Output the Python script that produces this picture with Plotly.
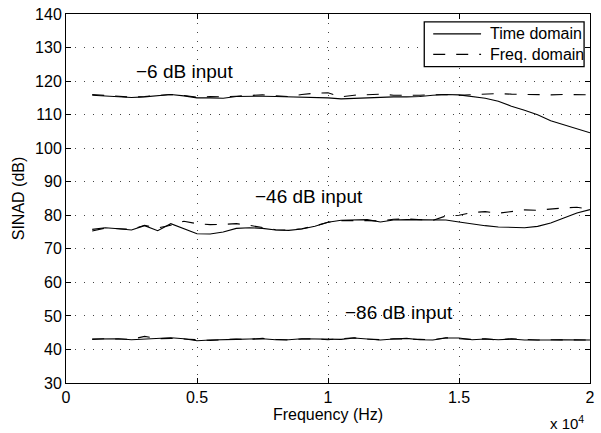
import plotly.graph_objects as go

freq_hz = [1000 + 500 * i for i in range(39)]

time_m6 = [115.8, 115.5, 115.2, 115.1, 115.3, 115.7, 116.0, 115.6, 115.0, 115.0,
           114.9, 115.4, 115.5, 115.5, 115.4, 115.3, 115.3, 115.2, 115.0,
           114.7, 114.9, 115.1, 115.2, 115.3, 115.3, 115.4, 115.8, 116.0, 115.9,
           115.5, 114.9, 114.0, 112.5, 111.3, 110.0, 108.2, 107.0, 105.8, 104.6]
freq_m6 = [116.0, 115.7, 115.3, 115.2, 115.4, 115.8, 116.0, 115.7, 115.2, 115.4,
           115.3, 115.5, 115.8, 115.9, 115.6, 115.4, 116.0, 116.4, 116.5,
           115.3, 115.8, 116.0, 116.1, 115.8, 115.7, 115.8, 115.9, 116.0, 115.8,
           116.0, 116.2, 116.3, 116.1, 116.0, 115.9, 115.9, 116.0, 116.0, 115.9]

time_m46 = [75.8, 76.3, 76.0, 75.6, 76.9, 75.4, 77.5, 76.1, 74.5, 74.4,
            75.0, 76.1, 76.3, 76.1, 75.6, 75.5, 75.9, 76.7, 77.9,
            78.5, 78.6, 78.7, 78.0, 78.6, 78.7, 78.6, 78.6, 78.6, 78.0,
            77.4, 76.9, 76.5, 76.3, 76.3, 76.7, 77.7, 79.2, 80.7, 81.7]
freq_m46 = [75.3, 76.2, 76.0, 75.8, 77.0, 76.2, 77.0, 78.2, 77.5, 77.2,
            77.3, 77.5, 77.0, 76.3, 75.7, 75.6, 76.0, 76.8, 77.9,
            78.4, 78.5, 78.4, 78.3, 78.8, 78.9, 78.6, 78.5, 79.8, 80.0,
            80.8, 81.1, 80.6, 81.2, 81.6, 81.5, 81.9, 82.2, 82.4, 81.8]

time_m86 = [43.1, 43.1, 43.2, 42.9, 43.1, 43.2, 43.5, 43.2, 42.6, 42.8,
            42.8, 43.0, 43.1, 43.2, 42.9, 42.9, 43.2, 43.1, 43.0,
            43.0, 43.4, 43.2, 42.8, 43.1, 43.3, 42.9, 42.8, 43.4, 43.4,
            42.9, 43.1, 42.9, 43.1, 42.8, 42.7, 42.8, 42.9, 42.8, 42.8]
freq_m86 = [43.0, 43.2, 43.1, 43.0, 43.9, 43.2, 43.3, 43.1, 42.8, 42.7,
            42.9, 43.1, 43.0, 43.3, 43.0, 42.8, 43.1, 43.2, 42.9,
            43.1, 43.5, 43.1, 42.9, 43.2, 43.2, 43.0, 42.9, 43.5, 43.2,
            43.0, 43.2, 42.8, 43.2, 42.9, 42.8, 42.9, 42.8, 42.9, 42.8]

x_tickvals = [0, 5000, 10000, 15000, 20000]
x_ticktext = ["0", "0.5", "1", "1.5", "2"]
y_tickvals = list(range(30, 141, 10))

labels = [("\u22126 dB input", 2580, 122.9),
          ("\u221246 dB input", 7150, 85.6),
          ("\u221286 dB input", 10580, 50.9)]
series_names = ["Time domain", "Freq. domain"]

FONT = "Liberation Sans, Arial, sans-serif"
DASH = "12px,11px"
fig = go.Figure()

for ys in [time_m6, time_m46, time_m86]:
    fig.add_trace(go.Scatter(x=freq_hz, y=ys, mode="lines", name=series_names[0],
                             showlegend=False, line=dict(color="black", width=1.1)))
for ys in [freq_m6, freq_m46, freq_m86]:
    fig.add_trace(go.Scatter(x=freq_hz, y=ys, mode="lines", name=series_names[1],
                             showlegend=False, line=dict(color="black", width=1.1, dash=DASH)))

for txt, xv, yv in labels:
    fig.add_annotation(x=xv, y=yv, text=txt, showarrow=False, xanchor="left", yanchor="middle",
                       font=dict(family=FONT, size=19, color="black"))

# legend box (drawn manually to match the long line samples)
fig.add_shape(type="rect", xref="paper", yref="paper", x0=0.6837, x1=0.9887, y0=0.8575, y1=0.9785,
              line=dict(color="black", width=1.3), fillcolor="white", layer="above")
for name, yv, dash in [(series_names[0], 0.9462, "solid"), (series_names[1], 0.8906, DASH)]:
    fig.add_shape(type="line", xref="paper", yref="paper", x0=0.7008, x1=0.7921, y0=yv, y1=yv,
                  line=dict(color="black", width=1.1, dash=dash), layer="above")
    fig.add_annotation(xref="paper", yref="paper", x=0.8047, y=yv, text=name, showarrow=False,
                       xanchor="left", yanchor="middle",
                       font=dict(family=FONT, size=16, color="black"))

fig.add_annotation(xref="paper", yref="paper", x=0.993, y=-0.108, xanchor="right", yanchor="middle",
                   text="x 10<sup>4</sup>", showarrow=False,
                   font=dict(family=FONT, size=15, color="black"))

axis_common = dict(showline=True, linecolor="black", linewidth=1, mirror="ticks",
                   ticks="inside", ticklen=5, tickcolor="black",
                   showgrid=True, gridcolor="#444", gridwidth=1, griddash="1px,8px",
                   zeroline=False, tickfont=dict(family=FONT, size=16, color="black"))

fig.update_layout(
    width=601, height=433,
    margin=dict(l=66, r=6, t=11, b=50),
    paper_bgcolor="white", plot_bgcolor="white",
    font=dict(family=FONT, size=16, color="black"),
    xaxis=dict(range=[0, 20000], tickvals=x_tickvals, ticktext=x_ticktext,
               title=dict(text="Frequency (Hz)", standoff=2, font=dict(family=FONT, size=16)),
               **axis_common),
    yaxis=dict(range=[30, 140], tickvals=y_tickvals,
               title=dict(text="SINAD (dB)", standoff=6, font=dict(family=FONT, size=16)),
               **axis_common),
    showlegend=False,
)

fig.write_html("out.html")
